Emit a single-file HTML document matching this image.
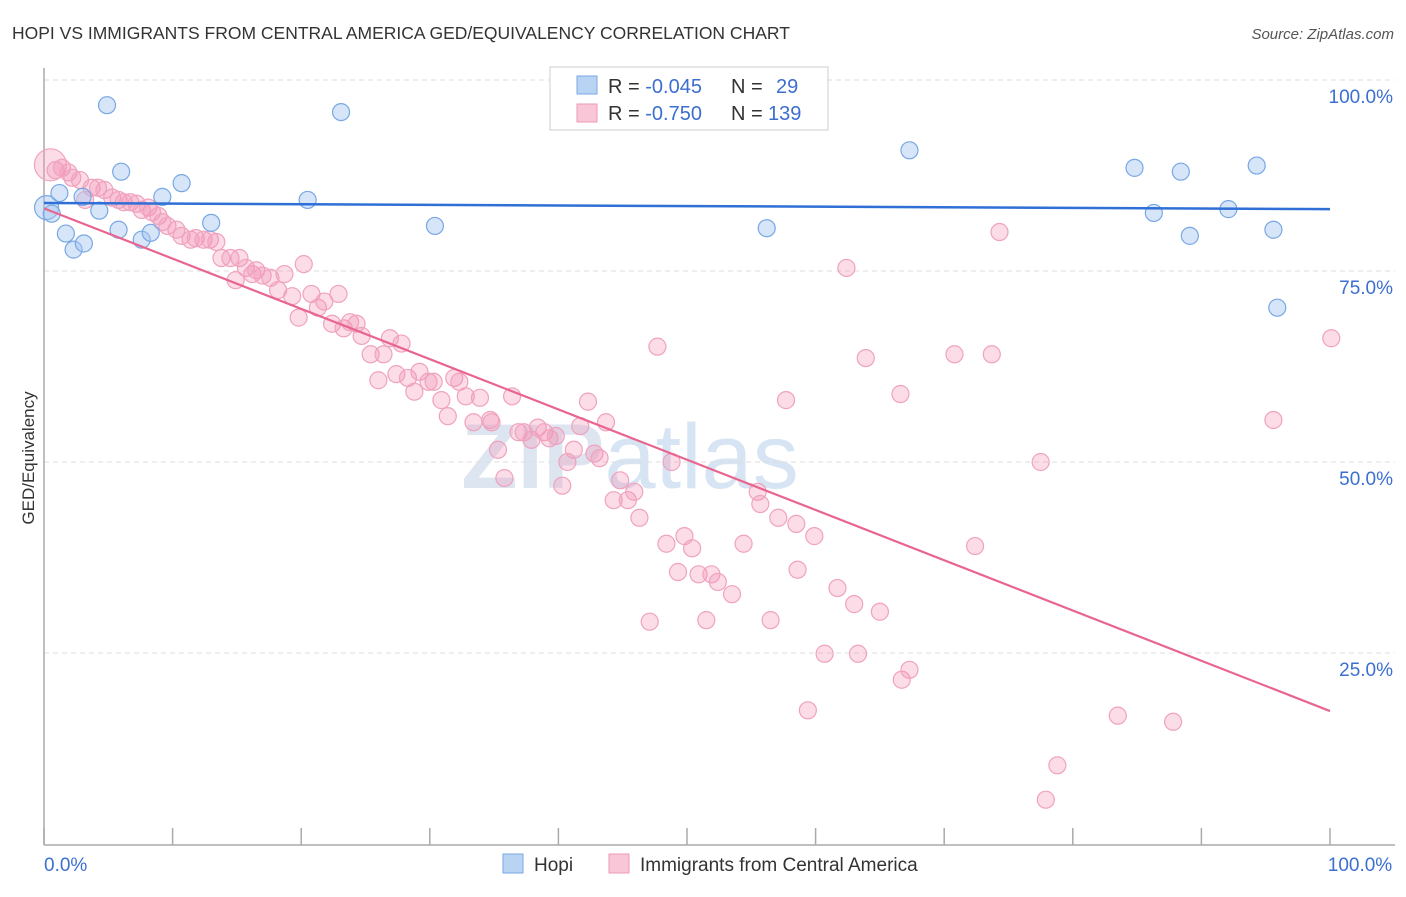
<!DOCTYPE html>
<html><head><meta charset="utf-8"><style>
body{margin:0;background:#fff;font-family:"Liberation Sans",sans-serif;}
svg text{font-family:"Liberation Sans",sans-serif;}
</style></head><body>
<svg width="1406" height="892" xmlns="http://www.w3.org/2000/svg">
<text x="12" y="39" font-size="17.5" fill="#333">HOPI VS IMMIGRANTS FROM CENTRAL AMERICA GED/EQUIVALENCY CORRELATION CHART</text>
<text x="1394" y="39" font-size="15" fill="#555" font-style="italic" text-anchor="end">Source: ZipAtlas.com</text>
<text x="630" y="488" font-size="92" fill="#dde6f0" text-anchor="middle" font-weight="bold">ZIP<tspan fill="#d6e4f4" font-weight="normal">atlas</tspan></text>
<g id="grid"></g>
<g id="axes"></g>
<g id="pts"></g>
<g id="lines"></g>
<text transform="translate(34,458) rotate(-90)" font-size="17" fill="#333" text-anchor="middle">GED/Equivalency</text>
<g>
<rect x="550" y="67" width="278" height="63" fill="#fff" stroke="#ccc"/>
<rect x="577" y="76" width="20" height="18" fill="#b9d3f3" stroke="#7aaae6"/>
<text x="608" y="93" font-size="20" fill="#333">R = <tspan fill="#3b6fd0">-0.045</tspan><tspan x="731">N = </tspan><tspan x="776" fill="#3b6fd0">29</tspan></text>
<rect x="577" y="104" width="20" height="18" fill="#f8c6d6" stroke="#ee9ab8"/>
<text x="608" y="120" font-size="20" fill="#333">R = <tspan fill="#3b6fd0">-0.750</tspan><tspan x="731">N = </tspan><tspan x="768" fill="#3b6fd0">139</tspan></text>
</g>
<g>
<rect x="503" y="854" width="20" height="19" fill="#b9d3f3" stroke="#7aaae6"/>
<text x="534" y="871" font-size="19" fill="#333">Hopi</text>
<rect x="609" y="854" width="20" height="19" fill="#f8c6d6" stroke="#ee9ab8"/>
<text x="640" y="871" font-size="19" fill="#333">Immigrants from Central America</text>
</g>
</svg>
<script>
const yTicks=[100,75,50,25];
const yTickLabels=["100.0%","75.0%","50.0%","25.0%"];
const xTickLabels=["0.0%","100.0%"];
const hopiX=[0.2,0.6,1.2,1.7,2.3,3.1,3.0,4.3,4.9,5.8,6.0,7.6,8.3,9.2,10.7,13.0,20.5,23.1,30.4,56.2,67.3,84.8,86.3,88.4,89.1,92.1,94.3,95.6,95.9];
const hopiY=[83.3,82.5,85.2,79.9,77.8,78.6,84.7,82.9,96.7,80.4,88.0,79.1,80.0,84.7,86.5,81.3,84.3,95.8,80.9,80.6,90.8,88.5,82.6,88.0,79.6,83.1,88.8,80.4,70.2];
const immX=[0.5,0.9,1.4,1.9,2.2,2.8,3.2,3.7,4.2,4.7,5.3,5.8,6.2,6.7,7.2,7.6,8.1,8.4,8.9,9.2,9.6,10.3,10.7,11.4,11.8,12.4,12.9,13.4,13.8,14.5,14.9,15.2,15.7,16.2,16.5,17.0,17.6,18.2,18.7,19.3,19.8,20.2,20.8,21.3,21.8,22.4,22.9,23.3,23.8,24.3,24.7,25.4,26.0,26.4,26.9,27.4,27.8,28.3,28.8,29.2,29.9,30.3,30.9,31.4,31.9,32.3,32.8,33.4,33.9,34.7,34.8,35.3,35.8,36.4,36.9,37.3,37.9,38.4,38.9,39.3,39.8,40.3,40.7,41.2,41.7,42.3,42.8,43.2,43.7,44.3,44.8,45.4,45.9,46.3,47.1,47.7,48.4,48.8,49.3,49.8,50.4,50.9,51.5,51.9,52.4,53.5,54.4,55.5,55.7,56.5,57.1,57.7,58.5,58.6,59.9,60.7,59.4,61.7,63.0,63.3,63.9,65.0,66.6,66.7,67.3,62.4,70.8,72.4,73.7,74.3,77.5,77.9,78.8,83.5,87.8,95.6,100.1,54.1];
const immY=[88.9,88.2,88.5,87.9,87.2,86.9,84.3,85.9,85.9,85.6,84.6,84.3,84.0,84.0,83.8,83.0,83.3,82.7,82.2,81.4,80.9,80.4,79.6,79.1,79.3,79.1,79.1,78.8,76.7,76.7,73.8,76.7,75.4,74.6,75.1,74.4,74.1,72.5,74.6,71.7,68.9,75.9,72.0,70.2,71.0,68.1,72.0,67.5,68.3,68.1,66.5,64.1,60.7,64.1,66.2,61.5,65.5,61.0,59.2,61.8,60.5,60.5,58.1,56.0,61.0,60.5,58.6,55.2,58.4,55.5,55.2,51.6,47.9,58.6,53.9,53.9,52.9,54.5,53.9,53.1,53.4,46.9,50.0,51.6,54.7,57.9,51.1,50.5,55.2,45.0,47.6,45.0,46.1,42.7,29.1,65.1,39.3,50.0,35.6,40.3,38.7,35.3,29.3,35.3,34.3,32.7,39.3,46.1,44.5,29.3,42.7,58.1,41.9,35.9,40.3,24.9,17.5,33.5,31.4,24.9,63.6,30.4,58.9,21.5,22.8,75.4,64.1,39.0,64.1,80.1,50.0,5.8,10.3,16.8,16.0,55.5,66.2,100.0];
const hopiTrend=[83.9,83.1];
const immTrend=[83.2,17.4];
const NS="http://www.w3.org/2000/svg";
function X(v){return 44+v*12.86;}
function Y(v){return 844-v*7.64;}
function mk(tag,attrs,parent){const e=document.createElementNS(NS,tag);for(const k in attrs)e.setAttribute(k,attrs[k]);document.getElementById(parent).appendChild(e);return e;}
yTicks.forEach((t,i)=>{
  const g=mk('line',{x1:44,x2:1395,y1:Y(t),y2:Y(t),stroke:'#ddd','stroke-dasharray':'5,4'},'grid');
  
  
  const l=mk('text',{x:1393,y:Y(t)+23,'font-size':19,fill:'#3b6fd0','text-anchor':'end'},'grid');
  l.textContent=yTickLabels[i];
  
  
});
const ax=mk('line',{x1:44,x2:44,y1:68,y2:845,stroke:'#aaa','stroke-width':1.5},'axes');


const bx=mk('line',{x1:44,x2:1395,y1:845,y2:845,stroke:'#aaa','stroke-width':1.5},'axes');


for(let i=0;i<=10;i++){
  const t=mk('line',{x1:X(i*10),x2:X(i*10),y1:828,y2:845,stroke:'#aaa','stroke-width':1.5},'axes');
  
  
}
[[0,'start',44],[100,'middle',X(100)+30]].forEach((d,i)=>{
  const t=mk('text',{x:d[2],y:871,'font-size':19,fill:'#3b6fd0','text-anchor':d[1]},'axes');
  t.textContent=xTickLabels[i];
  
  
});
immX.forEach((x,i)=>{
  const c=mk('circle',{cx:X(x),cy:Y(immY[i]),r:i===0?16:8.5,fill:'rgba(244,150,182,0.33)',stroke:'#f0a2be','stroke-width':1.2},'pts');
  
  
});
hopiX.forEach((x,i)=>{
  const c=mk('circle',{cx:X(x),cy:Y(hopiY[i]),r:i===0?12:8.5,fill:'rgba(165,198,240,0.45)',stroke:'#78a8e4','stroke-width':1.2},'pts');
  
  
});
const l1=mk('line',{x1:X(0),x2:X(100),y1:Y(hopiTrend[0]),y2:Y(hopiTrend[1]),stroke:'#2f6fd6','stroke-width':2.5},'lines');


const l2=mk('line',{x1:X(0),x2:X(100),y1:Y(immTrend[0]),y2:Y(immTrend[1]),stroke:'#e8658f','stroke-width':2.2},'lines');


</script>
</body></html>
